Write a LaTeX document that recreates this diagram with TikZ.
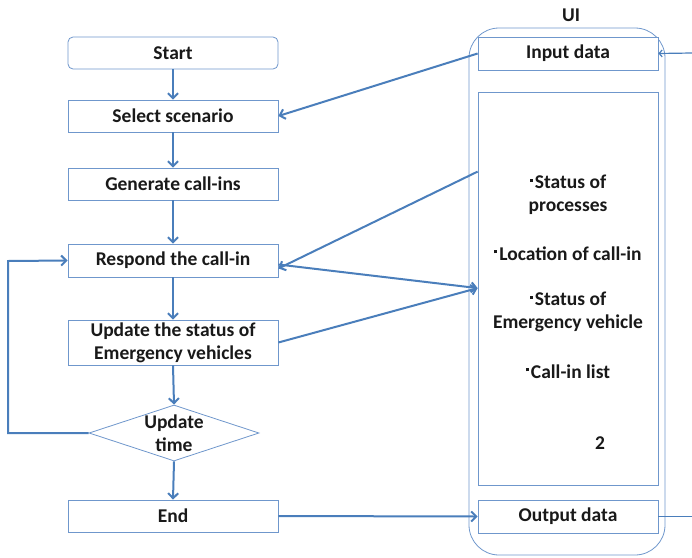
\documentclass[tikz,border=0pt]{standalone}
\usepackage{fontspec}
\setmainfont{Carlito}
\usetikzlibrary{shapes.geometric,arrows.meta}
\definecolor{conn}{HTML}{4A7EBB}
\definecolor{boxc}{HTML}{6F97CC}
\newcommand{\sqbul}{\rule[7pt]{3pt}{3pt}\hspace{2pt}}
\begin{document}
\begin{tikzpicture}[x=1pt,y=-1pt,
  every node/.style={font=\fontsize{19.5}{23}\selectfont\bfseries, text=black!90},
  stepbox/.style={draw=boxc, line width=0.8pt, minimum width=210pt, minimum height=32pt, inner sep=0pt, align=center, fill=white},
  conn/.style={draw=conn, line width=2pt},
  arr/.style={conn, -{Straight Barb[length=5pt,width=10pt]}}
]
\useasboundingbox (0,0) rectangle (692,557);
% UI container
\draw[boxc, line width=0.8pt, rounded corners=30pt] (469,28) rectangle (665,555);
\node (ui) at (571,15) {UI};
\node[stepbox, minimum width=180pt, minimum height=33pt] (inp) at (568,53.5) {Input data};
\node[stepbox, minimum width=180pt, minimum height=393pt] (mid) at (568,288.5) {};
\node[stepbox, minimum width=180pt, minimum height=33pt] (out) at (568,516.5) {Output data};
\node[align=center] (t1) at (568,195) {\sqbul Status of\\processes};
\node (t2) at (568,253.5) {\sqbul Location of call-in};
\node[align=center] (t3) at (568,312) {\sqbul Status of\\Emergency vehicle};
\node (t4) at (568,371.5) {\sqbul Call-in list};
\node (t5) at (600,443.5) {2};
% flow
\node[stepbox, rounded corners=5pt] (start) at (173,53) {Start};
\node[stepbox] (sel) at (173,116) {Select scenario};
\node[stepbox] (gen) at (173,184) {Generate call-ins};
\node[stepbox, minimum height=33pt] (resp) at (173,260.5) {Respond the call-in};
\node[stepbox, minimum height=45pt] (upd) at (173,342.5) {Update the status of\\Emergency vehicles};
\node[diamond, draw=boxc, line width=0.8pt, minimum width=170pt, minimum height=56pt, inner sep=0pt, fill=white] (dia) at (174,433) {};
\node[align=center] (diat) at (174,433.5) {Update\\time};
\node[stepbox] (end) at (173,516) {End};
% arrows
\draw[arr] (start) -- (sel);
\draw[arr] (sel) -- (gen);
\draw[arr] (gen) -- (resp);
\draw[arr] (resp) -- (upd);
\draw[arr] (upd.south) -- (dia.north);
\draw[arr] (dia.south) -- (end.north);
\coordinate (lp1) at (8,433);
\coordinate (lp2) at (8,261);
\draw[arr] (dia.west) -- (lp1) -- (lp2) -- (resp.west);
\draw[arr] (inp.west) -- (sel.east);
\draw[arr] ([yshift=-80pt]mid.north west) -- ([yshift=-8pt]resp.east);
\coordinate (mj) at ([yshift=-196.5pt]mid.north west);
\draw[arr] ([yshift=-4pt]resp.east) -- (mj);
\draw[arr] (upd.east) -- (mj);
\draw[arr] (end.east) -- (out.west);
\coordinate (rin) at (692,53);
\coordinate (rout) at (692,516.5);
\draw[conn, line width=1.2pt, -{Straight Barb[length=3pt,width=7pt]}] (rin) -- (inp.east);
\draw[conn, line width=1.2pt] (out.east) -- (rout);
\end{tikzpicture}
\end{document}
